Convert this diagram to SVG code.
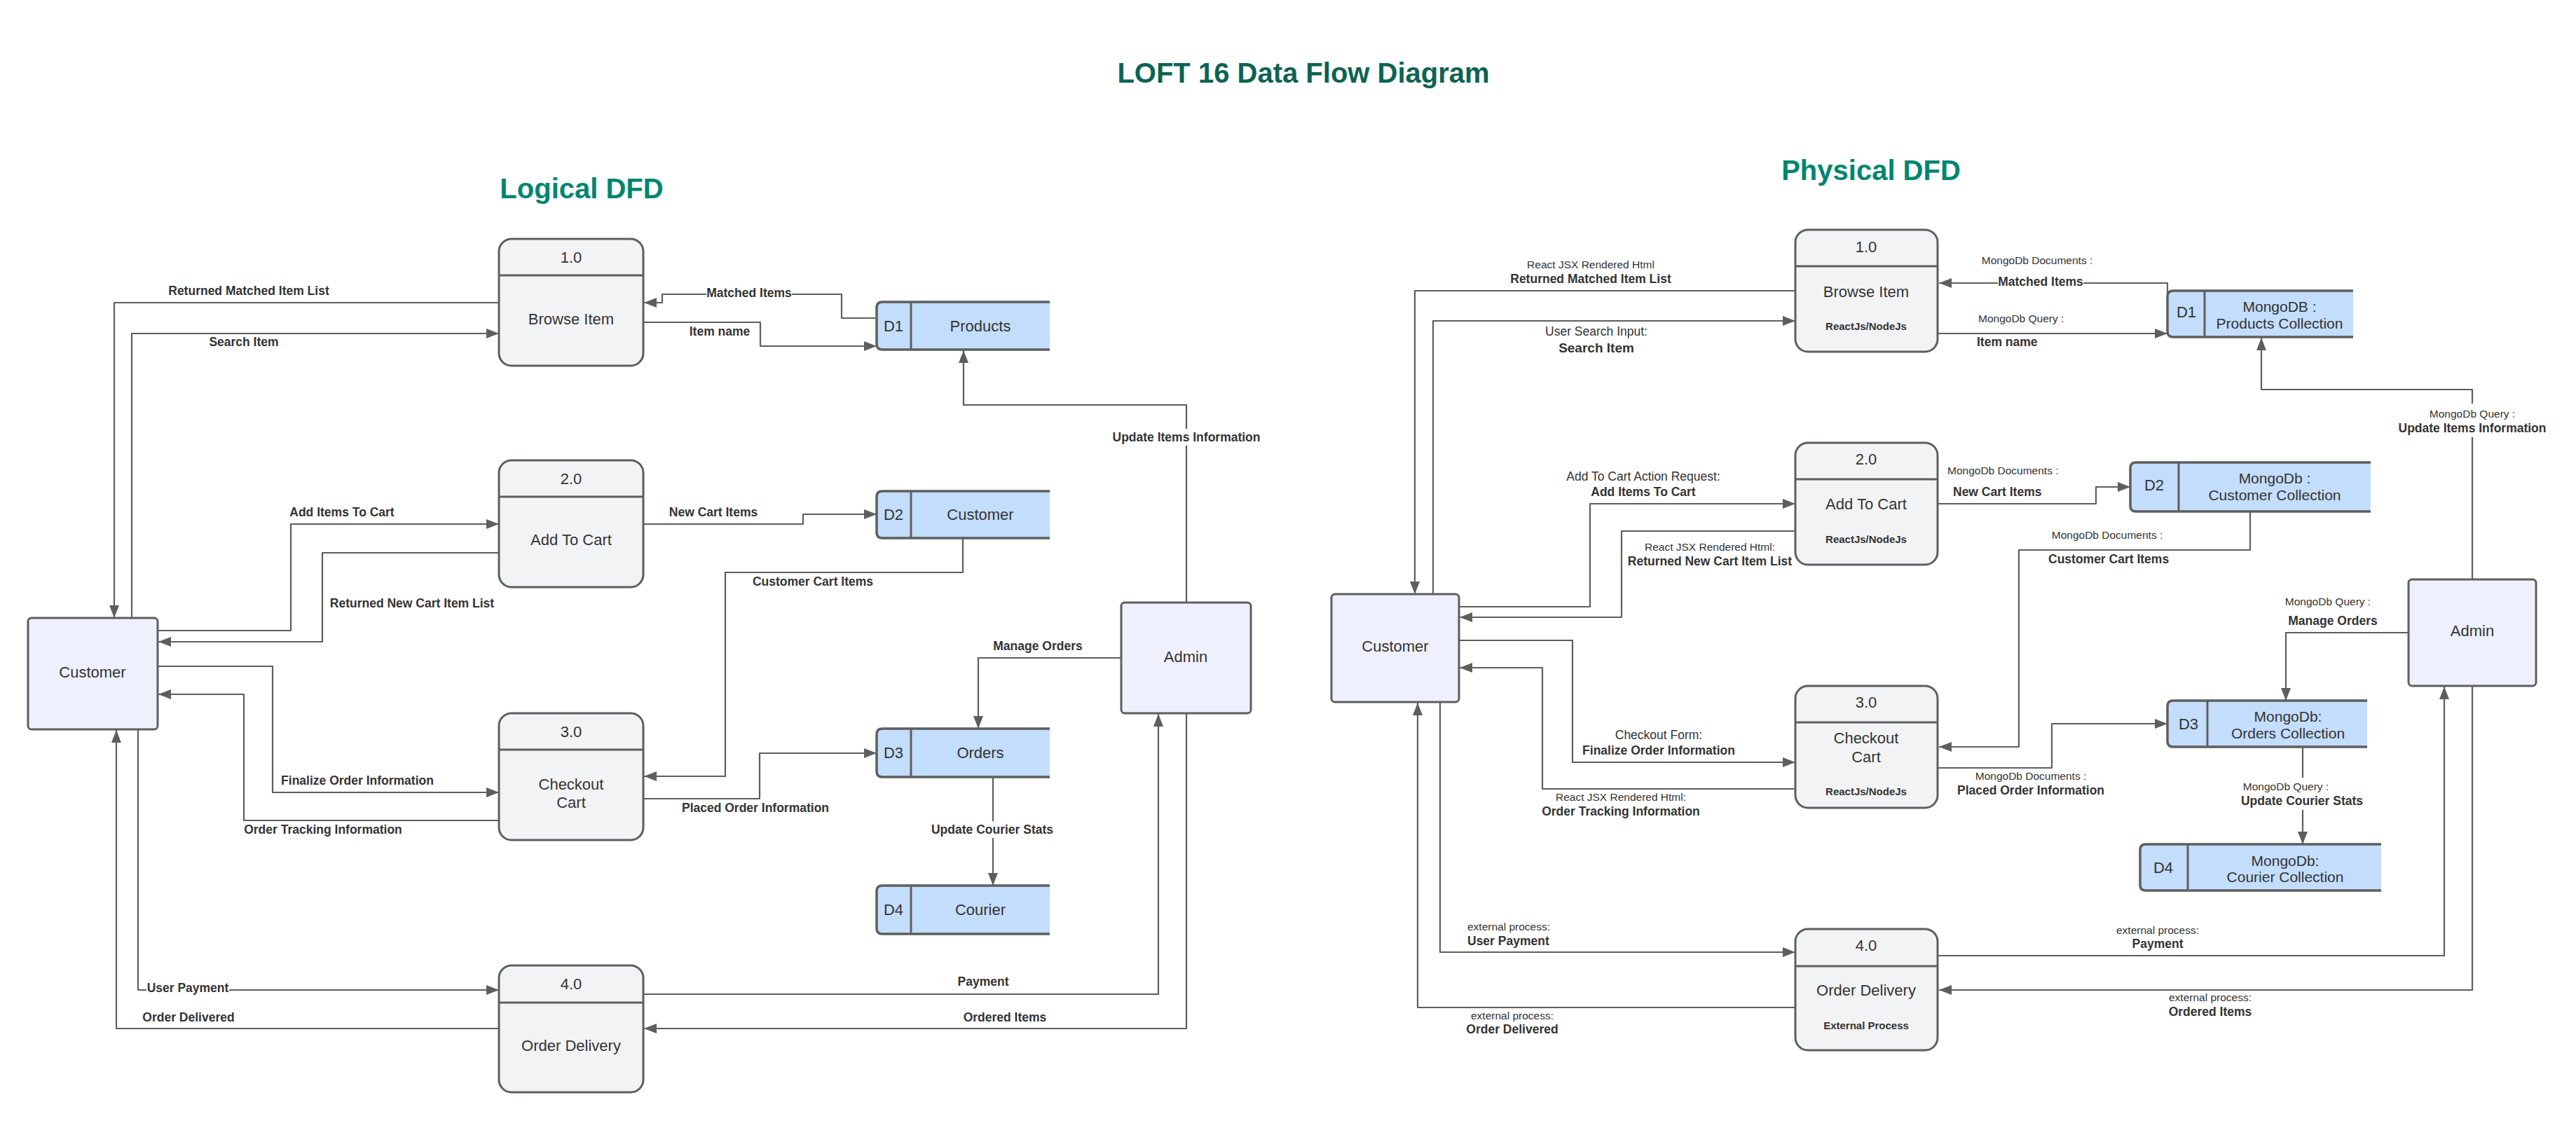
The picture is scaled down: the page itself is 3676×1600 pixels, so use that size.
<svg xmlns="http://www.w3.org/2000/svg" width="3676" height="1600" viewBox="0 0 3676 1600">
<style>
.proc{fill:#f2f3f5;stroke:#5e5e5e;stroke-width:3}
.ent{fill:#eff0fd;stroke:#5e5e5e;stroke-width:3}
.ds{fill:#c3ddfc;stroke:#5e5e5e;stroke-width:3.5}
.dv{stroke:#5e5e5e;stroke-width:3}
.c{fill:none;stroke:#5e5e5e;stroke-width:2.2;stroke-linejoin:round;marker-end:url(#arr)}
text{font-family:"Liberation Sans",Arial,sans-serif;fill:#333;text-anchor:middle}
.nt{font-size:22px}
.dt{font-size:21px}
.lb{font-size:17.5px;font-weight:bold}
.sm{font-size:15.5px}
.md{font-size:17.5px}
.tk{font-size:15px;font-weight:bold}
.bg{fill:#fff}
.st{text-anchor:start}
</style>
<defs>
<marker id="arr" markerUnits="userSpaceOnUse" markerWidth="20" markerHeight="16" refX="18" refY="7" orient="auto">
<path d="M0,0 L18,7 L0,14 z" fill="#5e5e5e"/>
</marker>
</defs>
<rect width="3676" height="1600" fill="#fff"/>
<text x="1860" y="118" style="font-size:40px;font-weight:bold;fill:#0d6352">LOFT 16 Data Flow Diagram</text>
<text x="830" y="283" style="font-size:40px;font-weight:bold;fill:#00856f">Logical DFD</text>
<text x="2670" y="257" style="font-size:40px;font-weight:bold;fill:#00856f">Physical DFD</text>

<g id="connectors">
<!-- Logical -->
<path class="c" d="M712,432 L163,432 L163,882"/>
<path class="c" d="M188,882 L188,476 L712,476"/>
<path class="c" d="M1251,454 L1201,454 L1201,420 L945,420 L945,432 L919,432"/>
<path class="c" d="M918,460 L1085,460 L1085,494 L1251,494"/>
<path class="c" d="M1693,860 L1693,578 L1375,578 L1375,500"/>
<path class="c" d="M225,900 L415,900 L415,748 L712,748"/>
<path class="c" d="M712,789 L460,789 L460,916 L226,916"/>
<path class="c" d="M918,748 L1146,748 L1146,734 L1251,734"/>
<path class="c" d="M1374,768 L1374,817 L1035,817 L1035,1108 L919,1108"/>
<path class="c" d="M225,951 L389,951 L389,1131 L712,1131"/>
<path class="c" d="M712,1171 L348,1171 L348,991 L226,991"/>
<path class="c" d="M918,1140 L1084,1140 L1084,1075 L1251,1075"/>
<path class="c" d="M1600,939 L1396,939 L1396,1040"/>
<path class="c" d="M1417,1109 L1417,1264"/>
<path class="c" d="M197,1041 L197,1413 L712,1413"/>
<path class="c" d="M712,1468 L166,1468 L166,1042"/>
<path class="c" d="M918,1419 L1653,1419 L1653,1019"/>
<path class="c" d="M1693,1018 L1693,1468 L919,1468"/>
<!-- Physical -->
<path class="c" d="M2562,415 L2019,415 L2019,848"/>
<path class="c" d="M2045,848 L2045,458 L2562,458"/>
<path class="c" d="M3093,420 L3093,404 L2767,404"/>
<path class="c" d="M2765,476 L3093,476"/>
<path class="c" d="M3528,827 L3528,556 L3227,556 L3227,482"/>
<path class="c" d="M2082,866 L2269,866 L2269,719 L2562,719"/>
<path class="c" d="M2562,758 L2314,758 L2314,881 L2083,881"/>
<path class="c" d="M2765,719 L2991,719 L2991,695 L3040,695"/>
<path class="c" d="M3211,730 L3211,785 L2881,785 L2881,1066 L2767,1066"/>
<path class="c" d="M2082,914 L2244,914 L2244,1088 L2562,1088"/>
<path class="c" d="M2562,1126 L2201,1126 L2201,953 L2083,953"/>
<path class="c" d="M2765,1096 L2928,1096 L2928,1033 L3093,1033"/>
<path class="c" d="M3437,903 L3262,903 L3262,1000"/>
<path class="c" d="M3286,1066 L3286,1205"/>
<path class="c" d="M2055,1002 L2055,1359 L2562,1359"/>
<path class="c" d="M2562,1438 L2023,1438 L2023,1003"/>
<path class="c" d="M2765,1364 L3488,1364 L3488,980"/>
<path class="c" d="M3528,979 L3528,1413 L2767,1413"/>
</g>

<g id="labels">
<!-- Logical -->
<text class="lb" x="355" y="421">Returned Matched Item List</text>
<text class="lb" x="348" y="494">Search Item</text>
<rect class="bg" x="1008" y="406" width="122" height="22"/>
<text class="lb" x="1069" y="424">Matched Items</text>
<text class="lb" x="1027" y="479">Item name</text>
<rect class="bg" x="1586" y="612" width="213" height="24"/>
<text class="lb" x="1693" y="630">Update Items Information</text>
<text class="lb" x="488" y="737">Add Items To Cart</text>
<text class="lb" x="588" y="867">Returned New Cart Item List</text>
<text class="lb" x="1018" y="737">New Cart Items</text>
<text class="lb" x="1160" y="836">Customer Cart Items</text>
<text class="lb" x="510" y="1120">Finalize Order Information</text>
<text class="lb" x="461" y="1190">Order Tracking Information</text>
<text class="lb" x="1078" y="1159">Placed Order Information</text>
<text class="lb" x="1481" y="928">Manage Orders</text>
<rect class="bg" x="1329" y="1172" width="175" height="24"/>
<text class="lb" x="1416" y="1190">Update Courier Stats</text>
<rect class="bg" x="209" y="1398" width="118" height="22"/>
<text class="lb" x="268" y="1416">User Payment</text>
<text class="lb" x="269" y="1458">Order Delivered</text>
<text class="lb" x="1403" y="1407">Payment</text>
<text class="lb" x="1434" y="1458">Ordered Items</text>
<!-- Physical -->
<text class="sm" x="2270" y="383">React JSX Rendered Html</text>
<text class="lb" x="2270" y="404">Returned Matched Item List</text>
<text class="md" x="2278" y="479">User Search Input:</text>
<text class="lb" x="2278" y="503" style="font-size:19px">Search Item</text>
<text class="sm" x="2907" y="377">MongoDb Documents :</text>
<rect class="bg" x="2851" y="392" width="122" height="22"/>
<text class="lb" x="2912" y="408">Matched Items</text>
<text class="sm st" x="2823" y="460">MongoDb Query :</text>
<text class="lb st" x="2821" y="494">Item name</text>
<rect class="bg" x="3421" y="576" width="215" height="48"/>
<text class="sm" x="3528" y="596">MongoDb Query :</text>
<text class="lb" x="3528" y="617">Update Items Information</text>
<text class="md" x="2345" y="686">Add To Cart Action Request:</text>
<text class="lb" x="2345" y="708">Add Items To Cart</text>
<text class="sm" x="2440" y="786">React JSX Rendered Html:</text>
<text class="lb" x="2440" y="807">Returned New Cart Item List</text>
<text class="sm st" x="2779" y="677">MongoDb Documents :</text>
<text class="lb st" x="2787" y="708">New Cart Items</text>
<text class="sm" x="3007" y="769">MongoDb Documents :</text>
<text class="lb st" x="2923" y="804">Customer Cart Items</text>
<text class="md" x="2367" y="1055">Checkout Form:</text>
<text class="lb" x="2367" y="1077">Finalize Order Information</text>
<text class="sm" x="2313" y="1143">React JSX Rendered Html:</text>
<text class="lb" x="2313" y="1164">Order Tracking Information</text>
<text class="sm" x="2898" y="1113">MongoDb Documents :</text>
<text class="lb" x="2898" y="1134">Placed Order Information</text>
<text class="sm" x="3322" y="864">MongoDb Query :</text>
<text class="lb" x="3329" y="892">Manage Orders</text>
<rect class="bg" x="3196" y="1110" width="178" height="46"/>
<text class="sm" x="3262" y="1128">MongoDb Query :</text>
<text class="lb" x="3285" y="1149">Update Courier Stats</text>
<text class="sm st" x="2094" y="1328">external process:</text>
<text class="lb st" x="2094" y="1349">User Payment</text>
<text class="sm" x="2158" y="1455">external process:</text>
<text class="lb" x="2158" y="1475">Order Delivered</text>
<text class="sm" x="3079" y="1333">external process:</text>
<text class="lb" x="3079" y="1353">Payment</text>
<text class="sm" x="3154" y="1429">external process:</text>
<text class="lb" x="3154" y="1450">Ordered Items</text>
</g>

<!-- Logical nodes -->
<g id="L-P1">
<rect class="proc" x="712" y="341" width="206" height="181" rx="18"/>
<line class="dv" x1="712" y1="393" x2="918" y2="393"/>
<text class="nt" x="815" y="375">1.0</text>
<text class="nt" x="815" y="463">Browse Item</text>
</g>
<g id="L-P2">
<rect class="proc" x="712" y="657" width="206" height="181" rx="18"/>
<line class="dv" x1="712" y1="709" x2="918" y2="709"/>
<text class="nt" x="815" y="691">2.0</text>
<text class="nt" x="815" y="778">Add To Cart</text>
</g>
<g id="L-P3">
<rect class="proc" x="712" y="1018" width="206" height="181" rx="18"/>
<line class="dv" x1="712" y1="1070" x2="918" y2="1070"/>
<text class="nt" x="815" y="1052">3.0</text>
<text class="nt" x="815" y="1127">Checkout</text>
<text class="nt" x="815" y="1153">Cart</text>
</g>
<g id="L-P4">
<rect class="proc" x="712" y="1378" width="206" height="181" rx="18"/>
<line class="dv" x1="712" y1="1431" x2="918" y2="1431"/>
<text class="nt" x="815" y="1412">4.0</text>
<text class="nt" x="815" y="1500">Order Delivery</text>
</g>
<g id="L-Customer">
<rect class="ent" x="40" y="882" width="185" height="159" rx="5"/>
<text class="nt" x="132" y="967">Customer</text>
</g>
<g id="L-Admin">
<rect class="ent" x="1600" y="860" width="185" height="158" rx="5"/>
<text class="nt" x="1692" y="945">Admin</text>
</g>
<g id="L-D1">
<path class="ds" d="M1498,431 L1259,431 Q1251,431 1251,439 L1251,491 Q1251,499 1259,499 L1498,499"/>
<line class="dv" x1="1300" y1="431" x2="1300" y2="499"/>
<text class="nt" x="1275" y="473">D1</text>
<text class="nt" x="1399" y="473">Products</text>
</g>
<g id="L-D2">
<path class="ds" d="M1498,701 L1259,701 Q1251,701 1251,709 L1251,760 Q1251,768 1259,768 L1498,768"/>
<line class="dv" x1="1300" y1="701" x2="1300" y2="768"/>
<text class="nt" x="1275" y="742">D2</text>
<text class="nt" x="1399" y="742">Customer</text>
</g>
<g id="L-D3">
<path class="ds" d="M1498,1040 L1259,1040 Q1251,1040 1251,1048 L1251,1101 Q1251,1109 1259,1109 L1498,1109"/>
<line class="dv" x1="1300" y1="1040" x2="1300" y2="1109"/>
<text class="nt" x="1275" y="1082">D3</text>
<text class="nt" x="1399" y="1082">Orders</text>
</g>
<g id="L-D4">
<path class="ds" d="M1498,1264 L1259,1264 Q1251,1264 1251,1272 L1251,1325 Q1251,1333 1259,1333 L1498,1333"/>
<line class="dv" x1="1300" y1="1264" x2="1300" y2="1333"/>
<text class="nt" x="1275" y="1306">D4</text>
<text class="nt" x="1399" y="1306">Courier</text>
</g>

<!-- Physical nodes -->
<g id="P-P1">
<rect class="proc" x="2562" y="328" width="203" height="174" rx="18"/>
<line class="dv" x1="2562" y1="380" x2="2765" y2="380"/>
<text class="nt" x="2663" y="360">1.0</text>
<text class="nt" x="2663" y="424">Browse Item</text>
<text class="tk" x="2663" y="471">ReactJs/NodeJs</text>
</g>
<g id="P-P2">
<rect class="proc" x="2562" y="632" width="203" height="174" rx="18"/>
<line class="dv" x1="2562" y1="684" x2="2765" y2="684"/>
<text class="nt" x="2663" y="663">2.0</text>
<text class="nt" x="2663" y="727">Add To Cart</text>
<text class="tk" x="2663" y="775">ReactJs/NodeJs</text>
</g>
<g id="P-P3">
<rect class="proc" x="2562" y="979" width="203" height="174" rx="18"/>
<line class="dv" x1="2562" y1="1031" x2="2765" y2="1031"/>
<text class="nt" x="2663" y="1010">3.0</text>
<text class="nt" x="2663" y="1061">Checkout</text>
<text class="nt" x="2663" y="1088">Cart</text>
<text class="tk" x="2663" y="1135">ReactJs/NodeJs</text>
</g>
<g id="P-P4">
<rect class="proc" x="2562" y="1326" width="203" height="173" rx="18"/>
<line class="dv" x1="2562" y1="1379" x2="2765" y2="1379"/>
<text class="nt" x="2663" y="1357">4.0</text>
<text class="nt" x="2663" y="1421">Order Delivery</text>
<text class="tk" x="2663" y="1469">External Process</text>
</g>
<g id="P-Customer">
<rect class="ent" x="1900" y="848" width="182" height="154" rx="5"/>
<text class="nt" x="1991" y="930">Customer</text>
</g>
<g id="P-Admin">
<rect class="ent" x="3437" y="827" width="182" height="152" rx="5"/>
<text class="nt" x="3528" y="908">Admin</text>
</g>
<g id="P-D1">
<path class="ds" d="M3358,415 L3101,415 Q3093,415 3093,423 L3093,473 Q3093,481 3101,481 L3358,481"/>
<line class="dv" x1="3146" y1="415" x2="3146" y2="481"/>
<text class="nt" x="3120" y="453">D1</text>
<text class="dt" x="3253" y="445">MongoDB :</text>
<text class="dt" x="3253" y="469">Products Collection</text>
</g>
<g id="P-D2">
<path class="ds" d="M3383,660 L3048,660 Q3040,660 3040,668 L3040,722 Q3040,730 3048,730 L3383,730"/>
<line class="dv" x1="3109" y1="660" x2="3109" y2="730"/>
<text class="nt" x="3074" y="700">D2</text>
<text class="dt" x="3246" y="690">MongoDb :</text>
<text class="dt" x="3246" y="714">Customer Collection</text>
</g>
<g id="P-D3">
<path class="ds" d="M3378,1000 L3101,1000 Q3093,1000 3093,1008 L3093,1058 Q3093,1066 3101,1066 L3378,1066"/>
<line class="dv" x1="3150" y1="1000" x2="3150" y2="1066"/>
<text class="nt" x="3123" y="1041">D3</text>
<text class="dt" x="3265" y="1030">MongoDb:</text>
<text class="dt" x="3265" y="1054">Orders Collection</text>
</g>
<g id="P-D4">
<path class="ds" d="M3398,1205 L3062,1205 Q3054,1205 3054,1213 L3054,1263 Q3054,1271 3062,1271 L3398,1271"/>
<line class="dv" x1="3122" y1="1205" x2="3122" y2="1271"/>
<text class="nt" x="3087" y="1246">D4</text>
<text class="dt" x="3261" y="1236">MongoDb:</text>
<text class="dt" x="3261" y="1259">Courier Collection</text>
</g>
</svg>
